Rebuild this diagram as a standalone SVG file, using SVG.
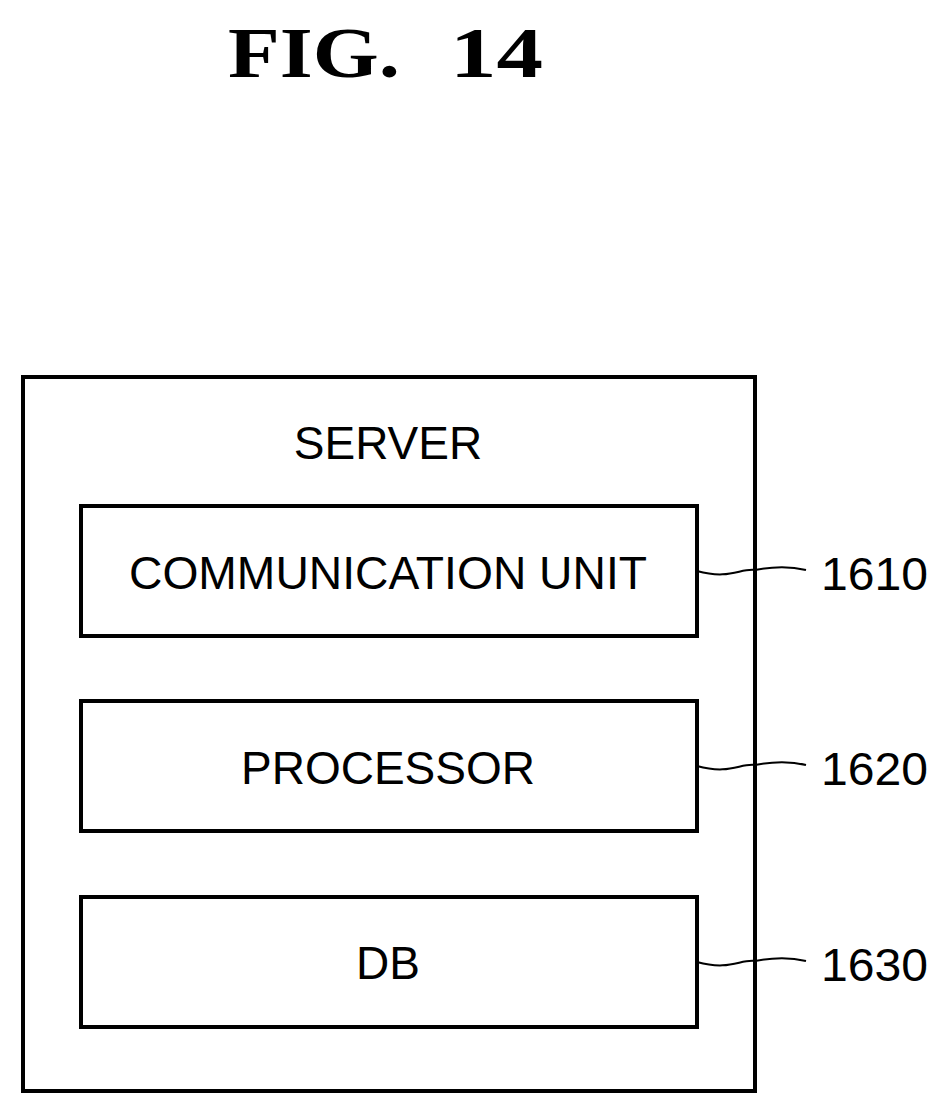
<svg xmlns="http://www.w3.org/2000/svg" width="948" height="1116" viewBox="0 0 948 1116">
<style>
.b{fill:none;stroke:#000;stroke-width:4}
.t{font-family:"Liberation Sans",Arial,sans-serif;font-size:46px;fill:#000}
.l{fill:none;stroke:#000;stroke-width:2}
.h{font-family:"Liberation Serif",serif;font-weight:bold;font-size:72px}
</style>
<rect width="948" height="1116" fill="#fff"/>
<text class="h" x="228" y="77" textLength="172" lengthAdjust="spacingAndGlyphs">FIG.</text>
<text class="h" x="450" y="77" textLength="93" lengthAdjust="spacingAndGlyphs">14</text>
<g id="server"><rect class="b" x="23" y="377" width="732" height="714"/><text class="t" x="388" y="459" text-anchor="middle">SERVER</text></g>
<g id="n1610"><rect class="b" x="81" y="506" width="616" height="130"/><text class="t" x="388" y="589" text-anchor="middle" textLength="518" lengthAdjust="spacingAndGlyphs">COMMUNICATION UNIT</text></g>
<g id="n1620"><rect class="b" x="81" y="701" width="616" height="130"/><text class="t" x="388" y="784" text-anchor="middle">PROCESSOR</text></g>
<g id="n1630"><rect class="b" x="81" y="897" width="616" height="130"/><text class="t" x="388" y="979" text-anchor="middle">DB</text></g>
<g id="connectors">
<path class="l" d="M697 571 C730 580 740 568 755 570 C775 566 790 566 806 570"/>
<path class="l" d="M697 766 C730 775 740 763 755 765 C775 761 790 761 806 765"/>
<path class="l" d="M697 962 C730 971 740 959 755 961 C775 957 790 957 806 961"/>
</g>
<text class="t" x="821" y="590" textLength="107" lengthAdjust="spacingAndGlyphs">1610</text>
<text class="t" x="821" y="785" textLength="107" lengthAdjust="spacingAndGlyphs">1620</text>
<text class="t" x="821" y="981" textLength="107" lengthAdjust="spacingAndGlyphs">1630</text>
</svg>
